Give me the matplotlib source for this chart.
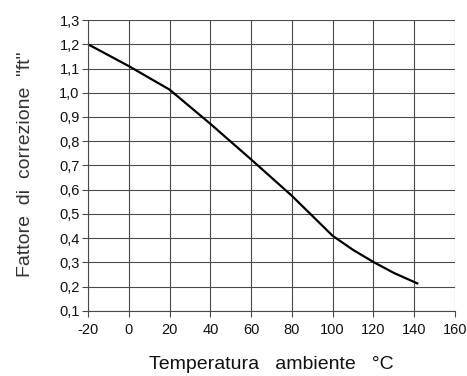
import matplotlib
matplotlib.use("Agg")
import matplotlib.pyplot as plt
from matplotlib.ticker import FuncFormatter

temps = [-20, 0, 20, 40, 60, 80, 100, 110, 120, 130, 142]
factor = [1.2, 1.11, 1.013, 0.872, 0.725, 0.575, 0.41, 0.352, 0.302, 0.257, 0.212]
xticks = [-20, 0, 20, 40, 60, 80, 100, 120, 140, 160]
yticks = [0.1, 0.2, 0.3, 0.4, 0.5, 0.6, 0.7, 0.8, 0.9, 1.0, 1.1, 1.2, 1.3]

fig = plt.figure(figsize=(4.67, 3.76), dpi=100)
ax = fig.add_axes([0.1884, 0.1729, 0.7859, 0.7739])
ax.plot(temps, factor, color="black", lw=1.6, solid_capstyle="butt")
ax.set_xlim(-20, 160)
ax.set_ylim(0.1, 1.3)
ax.set_xticks(xticks)
ax.set_yticks(yticks)
ax.yaxis.set_major_formatter(FuncFormatter(lambda v, p: f"{v:.1f}".replace(".", ",")))
ax.xaxis.set_major_formatter(FuncFormatter(lambda v, p: f"{v:.0f}"))
ax.grid(True, color="#4a4a4a", lw=0.8)
for s in ax.spines.values():
    s.set_visible(False)
ax.spines["left"].set_visible(True)
ax.spines["bottom"].set_visible(True)
ax.spines["left"].set_color("#4a4a4a")
ax.spines["bottom"].set_color("#4a4a4a")
ax.tick_params(axis="both", length=4, width=0.8, color="#4a4a4a", pad=2)
fam = ["Liberation Sans", "DejaVu Sans"]
for lab in ax.get_xticklabels() + ax.get_yticklabels():
    lab.set_family(fam)
    lab.set_fontsize(10.5)
    lab.set_color("#111111")
ax.tick_params(axis="x", pad=5)
fig.text(0.581, 0.03, "Temperatura   ambiente   °C", ha="center", va="center",
         fontsize=14, family=fam, color="#111111")
fig.text(0.054, 0.564, "Fattore  di  correzione  \"ft\"", ha="center", va="center",
         rotation=90, fontsize=14, family=fam, color="#333333")
fig.savefig("out.png", dpi=100)
